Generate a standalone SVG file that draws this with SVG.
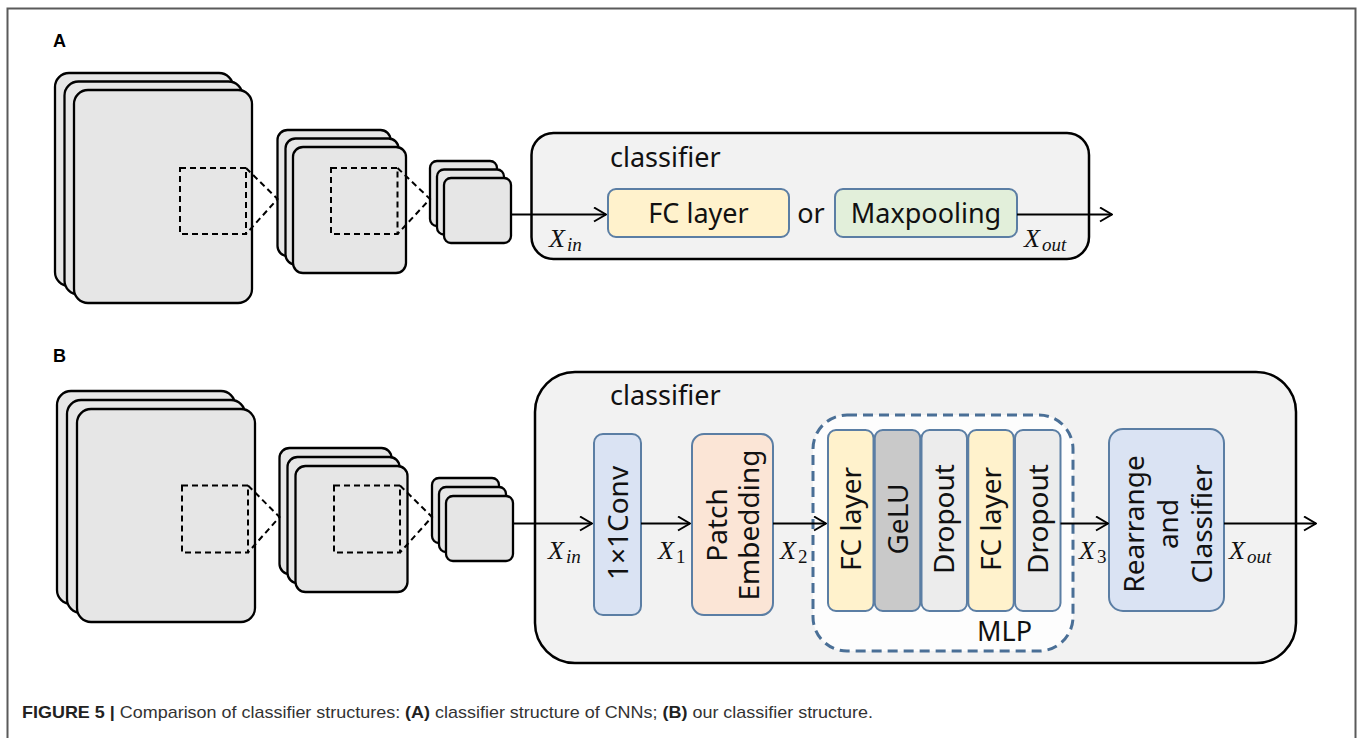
<svg xmlns="http://www.w3.org/2000/svg" width="1360" height="738" viewBox="0 0 1360 738">
<defs>
<style>
.fm{fill:#e6e6e6;stroke:#000;stroke-width:2.3}
.dsq{fill:none;stroke:#000;stroke-width:2;stroke-dasharray:6 4}
.dl{fill:none;stroke:#000;stroke-width:2;stroke-dasharray:6 4}
.cls{fill:#f2f2f2;stroke:#000;stroke-width:2.5}
.blk{stroke:#5b7ea4;stroke-width:2}
.ln{fill:none;stroke:#000;stroke-width:2;marker-end:url(#arr)}
.t{font-family:"Noto Sans","Open Sans",sans-serif;font-size:27px;fill:#111}
.tv{font-family:"Noto Sans","Open Sans",sans-serif;font-size:28px;fill:#111;text-anchor:middle}
.mx{font-family:"Liberation Serif","Times New Roman",serif;font-style:italic;font-size:26px;fill:#111}
.sub{font-size:19px}
.up{font-style:normal}
.lbl{font-family:"Liberation Sans",Arial,sans-serif;font-weight:bold;font-size:18px;fill:#000}
.cap{font-family:"Liberation Sans",Arial,sans-serif;font-size:17px;fill:#333}
</style>
<marker id="arr" viewBox="0 0 14 16" refX="13" refY="8" markerWidth="14" markerHeight="16" markerUnits="userSpaceOnUse" orient="auto">
<path d="M1,1 L13,8 L1,15" fill="none" stroke="#000" stroke-width="2"/>
</marker>
</defs>
<rect width="1360" height="738" fill="#fff"/>
<path d="M7.5,738 V8.5 H1355.5 V738" fill="none" stroke="#5a5a5a" stroke-width="2"/>

<text class="lbl" x="53" y="47">A</text>
<text class="lbl" x="53" y="362">B</text>

<!-- Panel A feature maps -->
<g id="a-map1">
<rect class="fm" x="55" y="73" width="178" height="213" rx="14"/>
<rect class="fm" x="64.5" y="81.5" width="178" height="213" rx="14"/>
<rect class="fm" x="74" y="90" width="178" height="213" rx="14"/>
<rect class="dsq" x="180" y="168" width="66" height="66"/>
</g>
<g id="a-map2">
<rect class="fm" x="277.5" y="130" width="113" height="126" rx="10"/>
<rect class="fm" x="285.5" y="138.5" width="113" height="126" rx="10"/>
<rect class="fm" x="293" y="147" width="113" height="126" rx="10"/>
<rect class="dsq" x="331" y="168" width="66.5" height="66"/>
</g>
<g id="a-map3">
<rect class="fm" x="430" y="161" width="67" height="65" rx="7"/>
<rect class="fm" x="437" y="169.5" width="67" height="65" rx="7"/>
<rect class="fm" x="444" y="178" width="67" height="65" rx="7"/>
</g>

<g id="a-classifier">
<rect class="cls" x="531.5" y="133" width="557.5" height="126" rx="22"/>
<text class="t" x="610" y="167">classifier</text>
</g>
<g id="a-fc">
<rect class="blk" x="608" y="189" width="181" height="48" rx="8" fill="#fff2cc"/>
<text class="t" x="698.5" y="223" text-anchor="middle">FC layer</text>
</g>
<text class="t" x="811" y="223" text-anchor="middle">or</text>
<g id="a-maxpool">
<rect class="blk" x="835" y="189" width="182" height="48" rx="8" fill="#e2efda"/>
<text class="t" x="926" y="223" text-anchor="middle">Maxpooling</text>
</g>
<text class="mx" x="549" y="247">X<tspan class="sub" x="567" y="251">in</tspan></text>
<text class="mx" x="1024" y="247">X<tspan class="sub" x="1042" y="251">out</tspan></text>

<!-- Panel B feature maps -->
<g id="b-map1">
<rect class="fm" x="57" y="391" width="178" height="213" rx="14"/>
<rect class="fm" x="67" y="400" width="178" height="213" rx="14"/>
<rect class="fm" x="77" y="409" width="178" height="213" rx="14"/>
<rect class="dsq" x="182" y="485.5" width="66" height="67"/>
</g>
<g id="b-map2">
<rect class="fm" x="279.5" y="448" width="112" height="126" rx="10"/>
<rect class="fm" x="287.5" y="457" width="112" height="126" rx="10"/>
<rect class="fm" x="295.5" y="466" width="112" height="126" rx="10"/>
<rect class="dsq" x="334" y="485.5" width="66" height="67"/>
</g>
<g id="b-map3">
<rect class="fm" x="432" y="478" width="67" height="65" rx="7"/>
<rect class="fm" x="439" y="487" width="67" height="65" rx="7"/>
<rect class="fm" x="446" y="496" width="67" height="65" rx="7"/>
</g>

<g id="b-classifier">
<rect class="cls" x="535" y="372" width="761" height="291" rx="40"/>
<text class="t" x="610" y="405">classifier</text>
</g>
<g id="b-conv">
<rect class="blk" x="594" y="434" width="47" height="181" rx="9" fill="#dae3f3"/>
<text class="tv" transform="translate(617.5,523) rotate(-90)" y="10">1×1Conv</text>
</g>
<g id="b-patch">
<rect class="blk" x="692" y="434" width="81" height="181" rx="12" fill="#fbe5d6"/>
<text class="tv" transform="translate(732.5,525) rotate(-90)"><tspan x="0" y="-5.5">Patch</tspan><tspan x="0" y="26.5">Embedding</tspan></text>
</g>
<g id="b-mlp">
<rect x="813" y="415" width="260" height="236" rx="34" fill="#fdfdfd" stroke="#4a6f96" stroke-width="3" stroke-dasharray="10 6"/>
<text class="t" x="977" y="641">MLP</text>
</g>
<g id="b-fc1">
<rect class="blk" x="828" y="430" width="45.5" height="181" rx="8" fill="#fff2cc"/>
<text class="tv" transform="translate(850.75,519) rotate(-90)" y="10">FC layer</text>
</g>
<g id="b-gelu">
<rect class="blk" x="874.75" y="430" width="45.5" height="181" rx="8" fill="#c9c9c9"/>
<text class="tv" transform="translate(897.5,519) rotate(-90)" y="10">GeLU</text>
</g>
<g id="b-drop1">
<rect class="blk" x="921.5" y="430" width="45.5" height="181" rx="8" fill="#ececec"/>
<text class="tv" transform="translate(944.25,519) rotate(-90)" y="10">Dropout</text>
</g>
<g id="b-fc2">
<rect class="blk" x="968.25" y="430" width="45.5" height="181" rx="8" fill="#fff2cc"/>
<text class="tv" transform="translate(991,519) rotate(-90)" y="10">FC layer</text>
</g>
<g id="b-drop2">
<rect class="blk" x="1015" y="430" width="45.5" height="181" rx="8" fill="#ececec"/>
<text class="tv" transform="translate(1037.75,519) rotate(-90)" y="10">Dropout</text>
</g>
<g id="b-rearrange">
<rect class="blk" x="1109" y="429" width="115" height="182" rx="14" fill="#dae3f3"/>
<text class="tv" transform="translate(1166.5,524) rotate(-90)"><tspan x="0" y="-22.5">Rearrange</tspan><tspan x="0" y="11.5">and</tspan><tspan x="0" y="45.5">Classifier</tspan></text>
</g>

<text class="mx" x="548" y="559">X<tspan class="sub" x="566" y="563">in</tspan></text>
<text class="mx" x="658" y="559">X<tspan class="sub up" x="676" y="563">1</tspan></text>
<text class="mx" x="780" y="559">X<tspan class="sub up" x="798" y="563">2</tspan></text>
<text class="mx" x="1079" y="559">X<tspan class="sub up" x="1097" y="563">3</tspan></text>
<text class="mx" x="1229" y="559">X<tspan class="sub" x="1247" y="563">out</tspan></text>

<g id="connectors">
<path class="dl" d="M246,168 L277.5,199 L246,234"/>
<path class="dl" d="M397.5,168 L430,199 L397.5,234"/>
<path class="dl" d="M248,485.5 L279.5,517 L248,552.5"/>
<path class="dl" d="M400,485.5 L432,517 L400,552.5"/>
<path class="ln" d="M511,214.5 H606"/>
<path class="ln" d="M1017,214.5 H1112"/>
<path class="ln" d="M513,523.5 H592"/>
<path class="ln" d="M641,523.5 H690"/>
<path class="ln" d="M773,523.5 H826"/>
<path class="ln" d="M1060.5,523.5 H1108"/>
<path class="ln" d="M1224,523.5 H1316"/>
</g>

<text class="cap" x="22" y="718" textLength="851" lengthAdjust="spacingAndGlyphs"><tspan font-weight="bold" fill="#222">FIGURE 5 |</tspan> Comparison of classifier structures: <tspan font-weight="bold" fill="#222">(A)</tspan> classifier structure of CNNs; <tspan font-weight="bold" fill="#222">(B)</tspan> our classifier structure.</text>
</svg>
